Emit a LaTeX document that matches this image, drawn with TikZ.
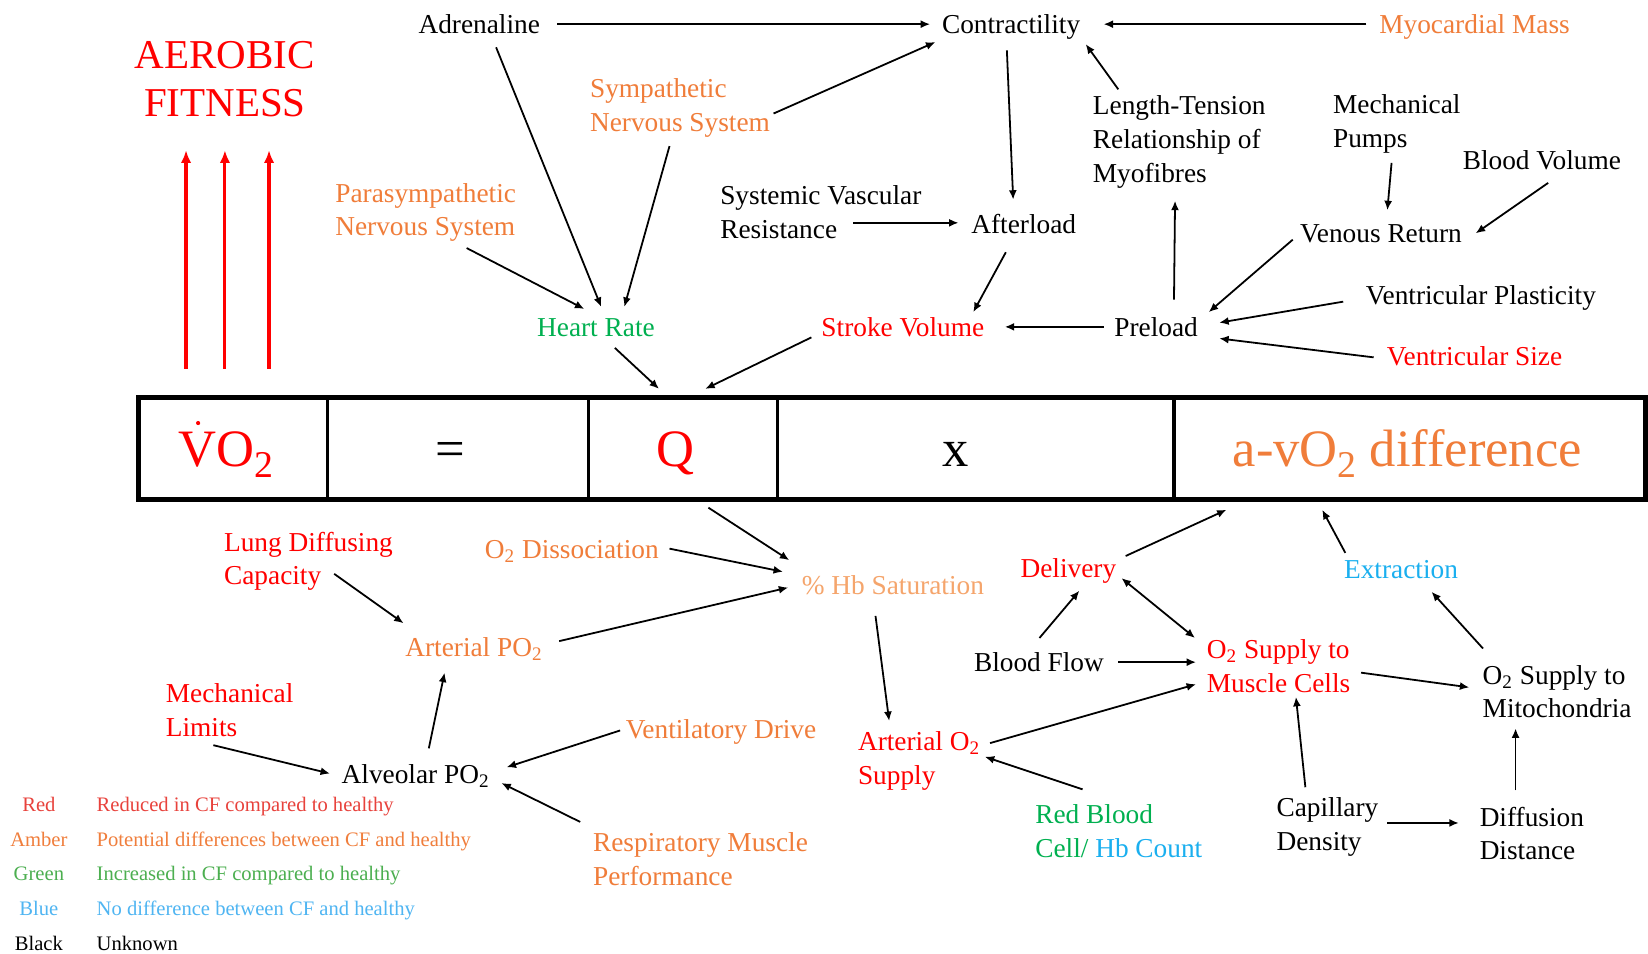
\documentclass[tikz,border=0pt]{standalone}
\usepackage{fontspec}
\setmainfont{Liberation Serif}
\usetikzlibrary{calc,arrows.meta}
\definecolor{cred}{HTML}{FF0000}
\definecolor{camber}{HTML}{F07D3A}
\definecolor{cpeach}{HTML}{F5A56C}
\definecolor{cgreen}{HTML}{00B050}
\definecolor{cblue}{HTML}{1AAFEF}
\definecolor{lred}{HTML}{E8423C}
\definecolor{lamber}{HTML}{F07E3C}
\definecolor{lgreen}{HTML}{4CAF50}
\definecolor{lblue}{HTML}{4FB5F2}
\newcommand\nf{\fontsize{13}{16}\selectfont}
\newcommand\bsub[1]{\raisebox{-5pt}{\fontsize{18}{18}\selectfont #1}}
\begin{document}
\begin{tikzpicture}[x=0.5pt,y=-0.5pt,
  lab/.style={inner sep=0pt,outer sep=0pt,font=\nf,text height=12pt,text depth=3pt},
  ml/.style={inner sep=0pt,outer sep=0pt,font=\nf,align=left,yshift=-1.5pt},
  arr/.style={-{Latex[length=4.5pt,width=3.8pt]},line width=0.85pt},
  darr/.style={{Latex[length=4.5pt,width=3.8pt]}-{Latex[length=4.5pt,width=3.8pt]},line width=0.85pt},
  redarr/.style={-{Latex[length=6pt,width=5pt]},line width=1.5pt,draw=cred},
  cell/.style={draw,line width=1.5pt,inner sep=0pt,outer sep=0pt,minimum height=48.5pt},
  big/.style={inner sep=0pt,outer sep=0pt,anchor=base,font=\fontsize{25}{30}\selectfont},
  leg/.style={inner sep=0pt,outer sep=0pt,font=\fontsize{9.8}{12}\selectfont,text height=10pt,text depth=2pt}]
\useasboundingbox (0,0) rectangle (1568,907);
\fill[white] (0,0) rectangle (1568,907);

% ---------- top part ----------
\node[inner sep=0pt,align=center,text=cred,font=\fontsize{19.5}{23}\selectfont] (aer) at (214,75) {AEROBIC\\FITNESS};
\node[lab] (adr) at (456,23) {Adrenaline};
\node[lab] (con) at (962,23) {Contractility};
\node[lab,text=camber] (myo) at (1403,23) {Myocardial Mass};
\node[ml,text=camber] (symp) at (647,100) {Sympathetic\\Nervous System};
\node[ml,text=camber] (para) at (405,199) {Parasympathetic\\Nervous System};
\node[ml] (lt) at (1122,132) {Length-Tension\\Relationship of\\Myofibres};
\node[ml] (mp) at (1329,115) {Mechanical\\Pumps};
\node[lab] (bv) at (1467,152) {Blood Volume};
\node[ml] (svr) at (781,199) {Systemic Vascular\\Resistance};
\node[lab] (aft) at (974,213) {Afterload};
\node[lab] (vr) at (1314,222) {Venous Return};
\node[lab] (vp) at (1409,281) {Ventricular Plasticity};
\node[lab,text=cgreen] (hr) at (567,311) {Heart Rate};
\node[lab,text=cred] (sv) at (859,311) {Stroke Volume};
\node[lab] (pre) at (1100,311) {Preload};
\node[lab,text=cred] (vs) at (1403,339) {Ventricular Size};

% ---------- equation box ----------
\node[cell,minimum width=90pt] (vo2) at (222,426.5) {};
\node[cell,minimum width=124pt] (eq) at (436,426.5) {};
\node[cell,minimum width=90pt] (q) at (650,426.5) {};
\node[cell,minimum width=188.5pt] (times) at (928.5,426.5) {};
\node[cell,minimum width=224.5pt] (avo) at (1341.5,426.5) {};
\draw[line width=2.6pt] (vo2.north west) rectangle (avo.south east);
\node[big,text=cred] (vo2t) at (215,444) {VO\bsub{2}};
\fill[cred] ($(vo2t.base)+(-26.5,-41.5)$) circle (1pt);
\node[big] (eqt) at (428,444) {=};
\node[big,text=cred] (qt) at (643,444) {Q};
\node[big] (xt) at (909,444) {x};
\node[big,text=camber] (avot) at (1339,444) {a-vO\bsub{2} difference};

% aerobic fitness arrows
\coordinate (f1) at (177,351);
\coordinate (f2) at (214,351);
\coordinate (f3) at (256,351);
\draw[redarr] (f1) -- ($(aer)+(-37,68)$);
\draw[redarr] (f2) -- ($(aer)+(0,68)$);
\draw[redarr] (f3) -- ($(aer)+(42,68)$);

% ---------- bottom part ----------
\node[ml,text=cred] (ldc) at (293.5,531) {Lung Diffusing\\Capacity};
\node[lab,text=camber] (o2d) at (544,522) {O\textsubscript{2} Dissociation};
\node[lab,text=cpeach] (hbs) at (849.5,557) {\% Hb Saturation};
\node[lab,text=cred] (del) at (1016.5,540) {Delivery};
\node[lab,text=cblue] (ext) at (1333,541) {Extraction};
\node[lab,text=camber] (apo) at (451,616) {Arterial PO\textsubscript{2}};
\node[lab] (bf) at (988.5,630) {Blood Flow};
\node[ml,text=cred] (osm) at (1216.5,631) {O\textsubscript{2} Supply to\\Muscle Cells};
\node[ml] (osmi) at (1481.5,655) {O\textsubscript{2} Supply to\\Mitochondria};
\node[ml,text=cred] (ml) at (218.5,672.5) {Mechanical\\Limits};
\node[lab,text=camber] (vd) at (686,694) {Ventilatory Drive};
\node[ml,text=cred] (ao2) at (874.5,721) {Arterial O\textsubscript{2}\\Supply};
\node[lab] (alv) at (395.5,736) {Alveolar PO\textsubscript{2}};
\node[ml,text=cgreen] (rbc) at (1064.5,788) {Red Blood\\Cell/ {\color{cblue}Hb Count}};
\node[ml] (cd) at (1263,784) {Capillary\\Density};
\node[ml] (dd) at (1457.5,790) {Diffusion\\Distance};
\node[ml,text=camber] (rmp) at (666.5,814.5) {Respiratory Muscle\\Performance};

% ---------- legend ----------
\node[leg,text=lred] (k1) at (37,764) {Red};
\node[leg,text=lamber] (k2) at (37,797) {Amber};
\node[leg,text=lgreen] (k3) at (37,830) {Green};
\node[leg,text=lblue] (k4) at (37,863) {Blue};
\node[leg] (k5) at (37,896) {Black};
\node[leg,anchor=west,text=lred] (d1) at (92,764) {Reduced in CF compared to healthy};
\node[leg,anchor=west,text=lamber] (d2) at (92,797) {Potential differences between CF and healthy};
\node[leg,anchor=west,text=lgreen] (d3) at (92,830) {Increased in CF compared to healthy};
\node[leg,anchor=west,text=lblue] (d4) at (92,863) {No difference between CF and healthy};
\node[leg,anchor=west] (d5) at (92,896) {Unknown};

% ---------- connectors: top ----------
\draw[arr] ($(adr)+(74,0)$) -- ($(con)+(-77,0)$);
\draw[arr] ($(myo)+(-103,0)$) -- ($(con)+(88,0)$);
\draw[arr] ($(adr)+(16,22)$) -- ($(hr)+(5,-19)$);
\draw[arr] ($(symp)+(89,5)$) -- ($(con)+(-72,17)$);
\draw[arr] ($(symp)+(-10,36)$) -- ($(hr)+(27,-19)$);
\draw[arr] ($(para)+(39,34)$) -- ($(hr)+(-11,-17)$);
\draw[arr] ($(con)+(-4,25)$) -- ($(aft)+(-10,-23)$);
\draw[arr] ($(lt)+(-58,-50)$) -- ($(con)+(71,19)$);
\draw[arr] ($(svr)+(31,10)$) -- ($(aft)+(-62,-1)$);
\draw[arr] ($(aft)+(-17,27)$) -- ($(sv)+(67,-14)$);
\draw[arr] ($(mp)+(-5,37)$) -- ($(vr)+(6,-22)$);
\draw[arr] ($(bv)+(6,22)$) -- ($(vr)+(90,0)$);
\draw[arr] ($(vr)+(-84,6)$) -- ($(pre)+(50,-14)$);
\draw[arr] ($(pre)+(17,-26)$) -- ($(lt)+(-4,56)$);
\draw[arr] ($(pre)+(-50,0)$) -- ($(sv)+(97,0)$);
\draw[arr] ($(vp)+(-131,6)$) -- ($(pre)+(60,-4)$);
\draw[arr] ($(vs)+(-96,1)$) -- ($(pre)+(60,11)$);
\draw[arr] ($(hr)+(18,20)$) -- ($(q)+(-23,-56.5)$);
\draw[arr] ($(sv)+(-87,10)$) -- ($(q)+(21,-56.5)$);

% ---------- connectors: bottom ----------
\draw[arr] ($(q)+(24,56.5)$) -- ($(hbs)+(-98.5,-24)$);
\draw[arr] ($(o2d)+(93,0)$) -- ($(hbs)+(-104.5,-13)$);
\draw[arr] ($(apo)+(81,-6)$) -- ($(hbs)+(-99.5,2)$);
\draw[arr] ($(ldc)+(24.5,12)$) -- ($(apo)+(-67,-23)$);
\draw[arr] ($(alv)+(12.5,-24)$) -- ($(apo)+(-28,24)$);
\draw[arr] ($(ml)+(-15.5,33.5)$) -- ($(alv)+(-81.5,0)$);
\draw[arr] ($(vd)+(-96,1)$) -- ($(alv)+(86.5,-6)$);
\draw[arr] ($(rmp)+(-114.5,-35.5)$) -- ($(alv)+(81.5,9)$);
\draw[arr] ($(hbs)+(-16.5,29)$) -- ($(ao2)+(-28.5,-38)$);
\draw[arr] ($(ao2)+(67.5,-17)$) -- ($(osm)+(-78.5,17)$);
\draw[arr] ($(rbc)+(-34.5,-40)$) -- ($(ao2)+(62.5,-4)$);
\draw[arr] ($(bf)+(0.5,-23)$) -- ($(del)+(10.5,22)$);
\draw[arr] ($(bf)+(75.5,0)$) -- ($(osm)+(-78.5,-4)$);
\draw[darr] ($(del)+(50.5,10)$) -- ($(osm)+(-79.5,-27)$);
\draw[arr] ($(del)+(54.5,-11)$) -- ($(avo)+(-174.5,58.5)$);
\draw[arr] ($(ext)+(-53,-15)$) -- ($(avo)+(-83.5,58.5)$);
\draw[arr] ($(osmi)+(-70.5,-41)$) -- ($(ext)+(29,22)$);
\draw[arr] ($(osm)+(78.5,6)$) -- ($(osmi)+(-83.5,-4)$);
\draw[arr] ($(cd)+(-21,-38)$) -- ($(osm)+(16.5,29)$);
\draw[arr] ($(cd)+(57,-4)$) -- ($(dd)+(-69.5,-10)$);
\draw[arr] ($(dd)+(-15.5,-41)$) -- ($(osmi)+(-39.5,35)$);
\end{tikzpicture}
\end{document}
